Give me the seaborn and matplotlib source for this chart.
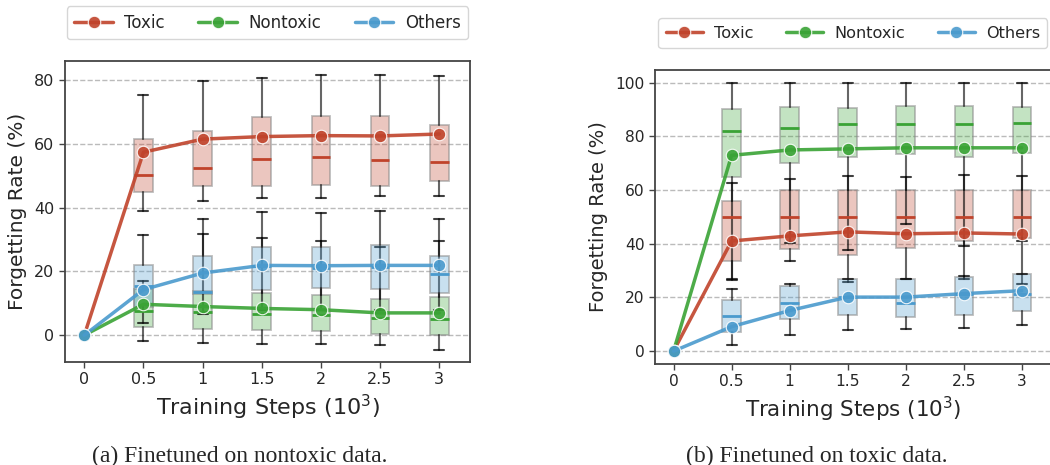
import numpy as np
import pandas as pd
import matplotlib
matplotlib.use('Agg')
import matplotlib.pyplot as plt
import seaborn as sns
from matplotlib.colors import to_rgba

sns.set_style('ticks')
plt.rcParams['font.family'] = ['DejaVu Sans']

# ---------------- data ----------------
steps = [0, 0.5, 1, 1.5, 2, 2.5, 3]
tick_labels = ['0', '0.5', '1', '1.5', '2', '2.5', '3']
box_steps = [0.5, 1, 1.5, 2, 2.5, 3]
series = ['Toxic', 'Nontoxic', 'Others']
colors = {'Toxic': '#c0432b', 'Nontoxic': '#3aa335', 'Others': '#4a9acd'}

# (a) Finetuned on nontoxic data -- mean lines
a_toxic_mean = [0, 57.4, 61.5, 62.3, 62.6, 62.5, 63.1]
a_nontoxic_mean = [0, 9.7, 9.0, 8.4, 8.0, 7.0, 7.0]
a_others_mean = [0, 14.3, 19.5, 21.9, 21.8, 21.9, 21.9]
# (a) boxes
a_toxic_q1 = [44.8, 46.7, 46.7, 47.0, 46.9, 48.4]
a_toxic_med = [50.3, 52.6, 55.3, 56.0, 55.0, 54.2]
a_toxic_q3 = [61.5, 64.2, 68.5, 68.6, 68.7, 65.9]
a_toxic_lo = [39.0, 42.1, 43.1, 43.1, 43.6, 43.8]
a_toxic_hi = [75.2, 79.8, 80.8, 81.6, 81.7, 81.4]

a_nontoxic_q1 = [2.6, 2.1, 1.5, 1.2, 0.5, 0.2]
a_nontoxic_med = [7.5, 7.2, 6.6, 6.3, 5.3, 5.2]
a_nontoxic_q3 = [14.6, 13.9, 13.1, 12.5, 11.4, 12.1]
a_nontoxic_lo = [-1.9, -2.4, -2.7, -2.6, -3.1, -4.5]
a_nontoxic_hi = [17.0, 31.6, 30.5, 29.6, 27.7, 29.6]

a_others_q1 = [8.9, 12.8, 14.3, 14.8, 14.6, 13.3]
a_others_med = [15.5, 13.6, 21.8, 21.2, 21.3, 19.1]
a_others_q3 = [22.1, 25.0, 27.6, 27.6, 28.4, 25.0]
a_others_lo = [3.7, 6.8, 8.0, 8.0, 8.0, 8.0]
a_others_hi = [31.4, 36.5, 38.7, 38.2, 38.9, 36.5]

# (b) Finetuned on toxic data -- mean lines
b_toxic_mean = [0, 41.0, 42.9, 44.4, 43.7, 44.0, 43.6]
b_nontoxic_mean = [0, 72.9, 74.9, 75.3, 75.7, 75.7, 75.7]
b_others_mean = [0, 9.1, 15.1, 20.1, 20.1, 21.4, 22.5]
# (b) boxes
b_toxic_q1 = [33.4, 38.1, 35.8, 38.3, 41.1, 42.0]
b_toxic_med = [50.0, 50.0, 50.0, 50.0, 50.0, 50.0]
b_toxic_q3 = [56.0, 60.0, 60.0, 60.0, 60.0, 60.0]
b_toxic_lo = [26.5, 33.4, 25.6, 26.7, 26.7, 25.0]
b_toxic_hi = [62.7, 64.2, 65.3, 64.9, 65.5, 65.3]

b_nontoxic_q1 = [64.8, 69.9, 72.3, 73.4, 72.3, 73.9]
b_nontoxic_med = [81.9, 83.2, 84.6, 84.6, 84.6, 84.8]
b_nontoxic_q3 = [90.3, 90.9, 90.7, 91.2, 91.4, 90.8]
b_nontoxic_lo = [26.9, 40.1, 37.5, 47.3, 39.1, 41.0]
b_nontoxic_hi = [100, 100, 100, 100, 100, 100]

b_others_q1 = [7.0, 11.8, 13.4, 12.8, 13.4, 15.1]
b_others_med = [13.0, 18.0, 20.1, 18.0, 21.4, 21.2]
b_others_q3 = [19.1, 24.4, 26.7, 26.7, 27.7, 28.6]
b_others_lo = [2.2, 6.0, 7.8, 8.1, 8.7, 9.7]
b_others_hi = [23.2, 25.0, 26.9, 26.9, 27.9, 28.8]

captions = ['(a) Finetuned on nontoxic data.', '(b) Finetuned on toxic data.']

# ---------------- drawing ----------------
fig = plt.figure(figsize=(10.5, 4.65), dpi=100)
axA = fig.add_axes([0.0619, 0.2215, 0.3857, 0.6473])
axB = fig.add_axes([0.6238, 0.2172, 0.3769, 0.633])


def draw_panel(ax, means, boxes, ylim, yticks, xlim, fs, leg_y):
    for name in series:
        q1, med, q3, lo, hi = boxes[name]
        c = colors[name]
        stats = [dict(q1=q1[i], med=med[i], q3=q3[i], whislo=lo[i], whishi=hi[i],
                      fliers=[]) for i in range(len(box_steps))]
        ax.bxp(stats, positions=box_steps, widths=0.158, capwidths=0.085,
               patch_artist=True, showfliers=False, manage_ticks=False,
               boxprops=dict(facecolor=to_rgba(c, 0.3), edgecolor=to_rgba('#888888', 0.55),
                             linewidth=1.3),
               medianprops=dict(color=c, linewidth=2.0),
               whiskerprops=dict(color=to_rgba('black', 0.6), linewidth=1.5),
               capprops=dict(color=to_rgba('black', 0.75), linewidth=1.5),
               zorder=2)
    rows = []
    for name in series:
        for s, v in zip(steps, means[name]):
            rows.append({'step': s, 'rate': v, 'type': name})
    df = pd.DataFrame(rows)
    sns.lineplot(data=df, x='step', y='rate', hue='type', hue_order=series,
                 palette=colors, marker='o', markersize=9, markeredgecolor='white',
                 markeredgewidth=0.8, linewidth=2.5, alpha=0.9, errorbar=None,
                 ax=ax, zorder=4)
    ax.set_xlim(*xlim)
    ax.set_ylim(*ylim)
    ax.set_xticks(steps)
    ax.set_xticklabels(tick_labels)
    ax.set_yticks(yticks)
    ax.yaxis.grid(True, linestyle='--', color='#bbbbbb', linewidth=1.0)
    ax.set_axisbelow(True)
    ax.tick_params(labelsize=11.5 * fs, length=4, color='#444444', width=1.0)
    ax.set_xlabel('Training Steps ($10^3$)', fontsize=16 * fs, labelpad=4)
    ax.set_ylabel('Forgetting Rate (%)', fontsize=14.5 * fs, labelpad=5)
    for sp in ax.spines.values():
        sp.set_visible(True)
        sp.set_color('#444444')
        sp.set_linewidth(1.3)
    sns.move_legend(ax, 'lower center', bbox_to_anchor=(0.5, leg_y), ncol=3,
                    title=None, frameon=True, fontsize=12 * fs, columnspacing=2.0,
                    handlelength=2.3, handletextpad=0.7, borderaxespad=0,
                    borderpad=0.45)
    leg = ax.get_legend()
    leg.get_frame().set_edgecolor('#cccccc')
    leg.get_frame().set_linewidth(1.0)


draw_panel(axA,
           {'Toxic': a_toxic_mean, 'Nontoxic': a_nontoxic_mean, 'Others': a_others_mean},
           {'Toxic': (a_toxic_q1, a_toxic_med, a_toxic_q3, a_toxic_lo, a_toxic_hi),
            'Nontoxic': (a_nontoxic_q1, a_nontoxic_med, a_nontoxic_q3, a_nontoxic_lo, a_nontoxic_hi),
            'Others': (a_others_q1, a_others_med, a_others_q3, a_others_lo, a_others_hi)},
           (-8.4, 86.0), [0, 20, 40, 60, 80], (-0.163, 3.26), 1.0, 1.072)

draw_panel(axB,
           {'Toxic': b_toxic_mean, 'Nontoxic': b_nontoxic_mean, 'Others': b_others_mean},
           {'Toxic': (b_toxic_q1, b_toxic_med, b_toxic_q3, b_toxic_lo, b_toxic_hi),
            'Nontoxic': (b_nontoxic_q1, b_nontoxic_med, b_nontoxic_q3, b_nontoxic_lo, b_nontoxic_hi),
            'Others': (b_others_q1, b_others_med, b_others_q3, b_others_lo, b_others_hi)},
           (-4.8, 104.8), [0, 20, 40, 60, 80, 100], (-0.16, 3.25), 0.97, 1.074)

fig.text(0.228, 0.007, captions[0], ha='center', va='baseline', fontsize=17,
         family='Liberation Serif')
fig.text(0.7778, 0.007, captions[1], ha='center', va='baseline', fontsize=17,
         family='Liberation Serif')

fig.savefig('out.png', dpi=100)
